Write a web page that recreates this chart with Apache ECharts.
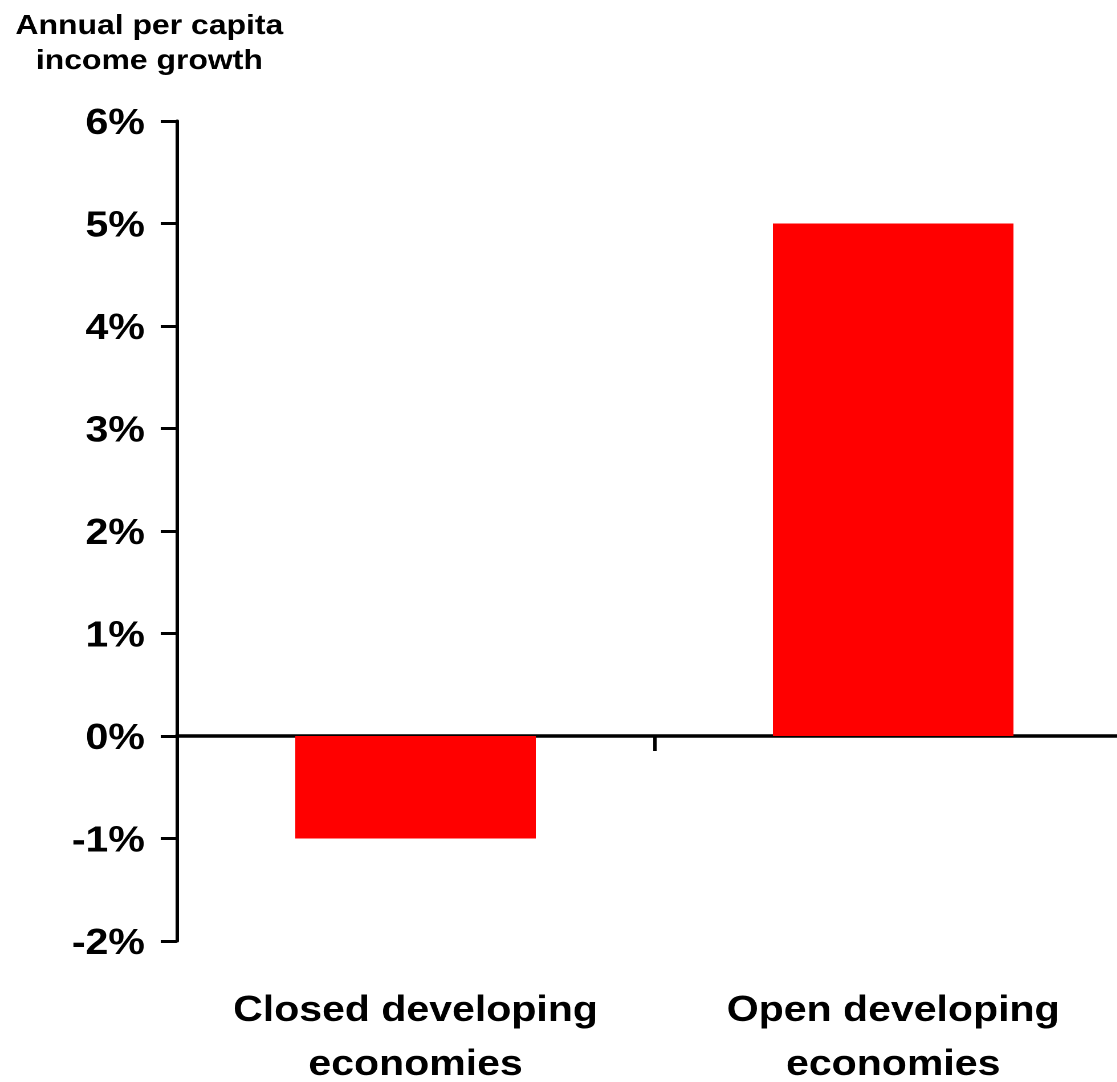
<!DOCTYPE html>
<html>
<head>
<meta charset="utf-8">
<title>Annual per capita income growth</title>
<script src="https://cdn.jsdelivr.net/npm/echarts@6/dist/echarts.min.js"></script>
<style>
  html, body { margin: 0; padding: 0; background: #fff; overflow: hidden; }
  #wrap { width: 1117px; height: 1082px; overflow: hidden; }
  /* chart drawn on a narrower canvas and widened, giving the broad lettering */
  #chart { width: 1000px; height: 1082px; transform: scaleX(1.14); transform-origin: 0 0; }
</style>
</head>
<body>
<div id="wrap"><div id="chart"></div></div>
<script>
// Economies grouped by trade openness
const categories = ['Closed developing\neconomies', 'Open developing\neconomies'];
// Annual per capita income growth, percent
const growth = [-1, 5];
// Value axis range and step, percent
const yMin = -2;
const yMax = 6;
const yStep = 1;
const axisTitle = 'Annual per capita\nincome growth';

const FONT = '"Liberation Sans", Arial, Helvetica, sans-serif';
const chart = echarts.init(document.getElementById('chart'), null, { renderer: 'canvas', devicePixelRatio: 2 });

chart.setOption({
  backgroundColor: '#fff',
  animation: false,
  grid: { left: 155, width: 838, top: 121, bottom: 141, containLabel: false, outerBoundsMode: 'none' },
  graphic: [{
    type: 'text',
    x: 131,
    y: 9,
    style: {
      text: axisTitle,
      font: 'bold 28px ' + FONT,
      fill: '#000',
      align: 'center',
      verticalAlign: 'top',
      lineHeight: 35
    }
  }],
  xAxis: [
    {
      // axis line through zero with the category divider tick
      type: 'category',
      data: categories,
      position: 'top',
      axisLine: { show: true, onZero: true, lineStyle: { color: '#000', width: 3.5 } },
      axisTick: { show: true, inside: true, length: 15, lineStyle: { color: '#000', width: 3 } },
      axisLabel: { show: false },
      splitLine: { show: false }
    },
    {
      // category names along the bottom
      type: 'category',
      data: categories,
      position: 'bottom',
      axisLine: { show: false, onZero: false },
      axisTick: { show: false },
      axisLabel: {
        show: true,
        interval: 0,
        hideOverlap: false,
        margin: 43,
        color: '#000',
        fontFamily: FONT,
        fontSize: 36,
        fontWeight: 'bold',
        lineHeight: 54,
        align: 'center'
      },
      splitLine: { show: false }
    }
  ],
  yAxis: {
    type: 'value',
    min: yMin,
    max: yMax,
    interval: yStep,
    axisLine: { show: true, lineStyle: { color: '#000', width: 3 } },
    axisTick: { show: true, length: 14, lineStyle: { color: '#000', width: 3 } },
    splitLine: { show: false },
    axisLabel: {
      margin: 28,
      color: '#000',
      fontFamily: FONT,
      fontSize: 36,
      fontWeight: 'bold',
      formatter: v => '{v|' + v + '%}',
      rich: {
        v: {
          color: '#000',
          fontFamily: FONT,
          fontSize: 36,
          fontWeight: 'bold',
          padding: [6, 0, 0, 0]
        }
      }
    }
  },
  series: [{
    type: 'bar',
    xAxisIndex: 0,
    data: growth,
    barWidth: 211,
    itemStyle: { color: '#ff0000' },
    z: 1
  }]
});
</script>
</body>
</html>
